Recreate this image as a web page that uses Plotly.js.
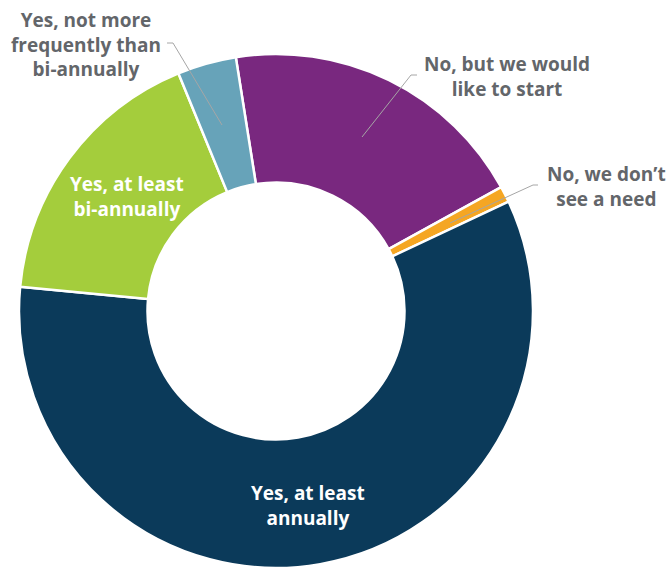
<!DOCTYPE html>
<html>
<head>
<meta charset="utf-8">
<script src="https://cdn.plot.ly/plotly-3.0.1.min.js"></script>
<style>html,body{margin:0;padding:0;background:#fff;}#chart{width:669px;height:568px;}</style>
</head>
<body>
<div id="chart"></div>
<script>
// Data (clockwise order starting near 12 o'clock)
const categories = [
  "No, but we would like to start",
  "No, we don’t see a need",
  "Yes, at least annually",
  "Yes, at least bi-annually",
  "Yes, not more frequently than bi-annually"
];
const shares = [19.5, 1.0, 58.5, 17.3, 3.7];
const sliceColors = ["#79287f", "#f5a623", "#0b3a5a", "#a4cd3c", "#67a3b9"];
const labelTexts = [
  "No, but we would<br>like to start",
  "No, we don’t<br>see a need",
  "Yes, at least<br>annually",
  "Yes, at least<br>bi-annually",
  "Yes, not more<br>frequently than<br>bi-annually"
];

const W = 669, H = 568;
const px = x => x / W;
const py = y => 1 - y / H;

const trace = {
  type: "pie",
  labels: categories,
  values: shares,
  sort: false,
  direction: "clockwise",
  rotation: -9,
  hole: 0.5,
  textinfo: "none",
  hoverinfo: "label+percent",
  marker: { colors: sliceColors, line: { color: "#ffffff", width: 2.5 } },
  domain: { x: [px(19), px(533)], y: [0, py(54)] },
  showlegend: false
};

const grey = "#63666a";
const font = "'Open Sans', 'Noto Sans', sans-serif";
const labelPos = [
  { x: 507, y: 76, c: grey },
  { x: 606, y: 186, c: grey },
  { x: 308, y: 505, c: "#ffffff" },
  { x: 127, y: 196, c: "#ffffff" },
  { x: 86, y: 45, c: grey }
];
const annotations = labelTexts.map((t, i) => ({
  text: "<b>" + t + "</b>",
  xref: "paper", yref: "paper",
  x: px(labelPos[i].x), y: py(labelPos[i].y),
  xanchor: "center", yanchor: "middle",
  showarrow: false,
  align: "center",
  font: { family: font, size: 19, color: labelPos[i].c }
}));

const leader = (pts) => pts.slice(1).map((p, i) => ({
  type: "line", xref: "paper", yref: "paper",
  x0: px(pts[i][0]), y0: py(pts[i][1]), x1: px(p[0]), y1: py(p[1]),
  line: { color: "#a6a6a6", width: 1 }
}));
const shapes = [].concat(
  leader([[167, 43], [173, 43], [222, 125]]),
  leader([[417, 75], [411, 75], [362, 137]]),
  leader([[538, 185], [533, 185], [450, 223]])
);

Plotly.newPlot("chart", [trace], {
  width: W, height: H,
  margin: { l: 0, r: 0, t: 0, b: 0 },
  paper_bgcolor: "#ffffff",
  annotations: annotations,
  shapes: shapes
}, { displayModeBar: false, staticPlot: true });
</script>
</body>
</html>
